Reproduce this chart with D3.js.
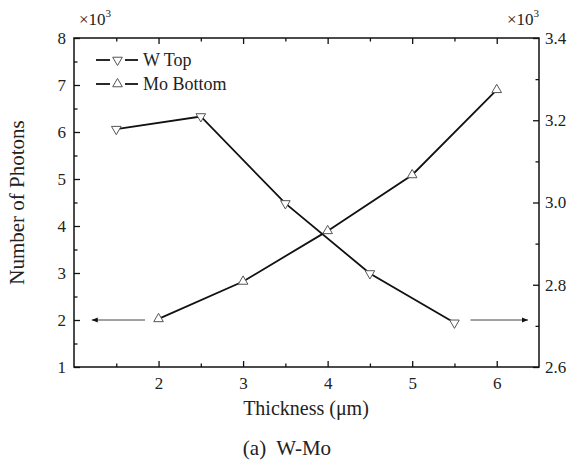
<!DOCTYPE html>
<html>
<head>
<meta charset="utf-8">
<script src="https://cdn.jsdelivr.net/npm/d3@7"></script>
<style>
  html, body { margin: 0; padding: 0; background: #fff; }
  svg { display: block; }
</style>
</head>
<body>
<svg id="chart" width="571" height="463"></svg>
<script>
// Photon counts vs. layer thickness for the W-Mo stack
const wThickness = [1.5, 2.5, 3.5, 4.5, 5.5];
const wTop = [6.06, 6.33, 4.48, 2.99, 1.94];          // left axis, ×10^3
const moThickness = [2, 3, 4, 5, 6];
const moBottom = [2.717, 2.808, 2.931, 3.067, 3.274]; // right axis, ×10^3

const xTicks = [2, 3, 4, 5, 6];
const xMinor = [1.5, 2.5, 3.5, 4.5, 5.5];
const yLeftTicks = [1, 2, 3, 4, 5, 6, 7, 8];
const yLeftMinor = [1.5, 2.5, 3.5, 4.5, 5.5, 6.5, 7.5];
const yRightTicks = [2.6, 2.8, 3.0, 3.2, 3.4];
const yRightMinor = [2.7, 2.9, 3.1, 3.3];

const legendLabels = ["W Top", "Mo Bottom"];
const xTitle = "Thickness (\u03bcm)";
const yTitle = "Number of Photons";
const caption = "(a)  W-Mo";

const SERIF = "'Liberation Serif', 'Times New Roman', 'DejaVu Serif', serif";

const svg = d3.select("#chart");
const L = 74, R = 539, T = 38, B = 367;

const x = d3.scaleLinear().domain([1, 6.5]).range([L, R]);
const yL = d3.scaleLinear().domain([1, 8]).range([B, T]);
const yR = d3.scaleLinear().domain([2.6, 3.4]).range([B, T]);

function txt(sel, size) {
  return sel.style("font-family", SERIF).style("font-size", size).style("fill", "#222");
}

function styleAxis(g) {
  g.attr("font-family", null).attr("font-size", null);
  g.select(".domain").remove();
  g.selectAll(".tick line").attr("stroke", "#111").attr("stroke-width", 1.3);
  txt(g.selectAll("text"), "17px");
}

// bottom axis
svg.append("g").attr("transform", `translate(0,${B})`)
  .call(d3.axisBottom(x).tickValues(xTicks).tickFormat(d3.format("d")).tickSizeInner(-6).tickSizeOuter(0).tickPadding(10))
  .call(styleAxis);
svg.append("g").attr("transform", `translate(0,${B})`)
  .call(d3.axisBottom(x).tickValues(xMinor).tickFormat("").tickSizeInner(-3.5).tickSizeOuter(0))
  .call(styleAxis);
// top axis (mirror ticks)
svg.append("g").attr("transform", `translate(0,${T})`)
  .call(d3.axisTop(x).tickValues(xTicks).tickFormat("").tickSizeInner(-6).tickSizeOuter(0))
  .call(styleAxis);
svg.append("g").attr("transform", `translate(0,${T})`)
  .call(d3.axisTop(x).tickValues(xMinor).tickFormat("").tickSizeInner(-3.5).tickSizeOuter(0))
  .call(styleAxis);
// left axis
svg.append("g").attr("transform", `translate(${L},0)`)
  .call(d3.axisLeft(yL).tickValues(yLeftTicks).tickFormat(d3.format("d")).tickSizeInner(-6).tickSizeOuter(0).tickPadding(8))
  .call(styleAxis);
svg.append("g").attr("transform", `translate(${L},0)`)
  .call(d3.axisLeft(yL).tickValues(yLeftMinor).tickFormat("").tickSizeInner(-3.5).tickSizeOuter(0))
  .call(styleAxis);
// right axis
svg.append("g").attr("transform", `translate(${R},0)`)
  .call(d3.axisRight(yR).tickValues(yRightTicks).tickFormat(d3.format(".1f")).tickSizeInner(-6).tickSizeOuter(0).tickPadding(6))
  .call(styleAxis);
svg.append("g").attr("transform", `translate(${R},0)`)
  .call(d3.axisRight(yR).tickValues(yRightMinor).tickFormat("").tickSizeInner(-3.5).tickSizeOuter(0))
  .call(styleAxis);

// frame
svg.append("rect").attr("x", L).attr("y", T).attr("width", R - L).attr("height", B - T)
  .attr("fill", "none").attr("stroke", "#111").attr("stroke-width", 1.5);

// multiplier labels
function multiplier(xPos) {
  const t = txt(svg.append("text").attr("x", xPos).attr("y", 25), "17px");
  t.append("tspan").text("\u00d710");
  t.append("tspan").attr("dy", -8).style("font-size", "11px").text("3");
}
multiplier(79);
multiplier(507);

// axis titles
txt(svg.append("text").attr("transform", `translate(24,${(T + B) / 2}) rotate(-90)`)
  .attr("text-anchor", "middle"), "21px").text(yTitle);
txt(svg.append("text").attr("x", 306).attr("y", 415)
  .attr("text-anchor", "middle"), "20px").text(xTitle);
txt(svg.append("text").attr("x", 287).attr("y", 455).attr("text-anchor", "middle")
  .attr("xml:space", "preserve").style("white-space", "pre"), "21px").text(caption);

// axis-indicator arrows
const defs = svg.append("defs");
defs.append("marker").attr("id", "arrowHead").attr("viewBox", "0 0 10 10")
  .attr("refX", 10).attr("refY", 5).attr("markerWidth", 7).attr("markerHeight", 6)
  .attr("markerUnits", "userSpaceOnUse").attr("orient", "auto")
  .append("path").attr("d", "M0,1 L10,5 L0,9 Z").attr("fill", "#111");

svg.append("line").attr("x1", x(1.84)).attr("x2", x(1.21))
  .attr("y1", yL(2)).attr("y2", yL(2))
  .attr("stroke", "#444").attr("stroke-width", 1).attr("marker-end", "url(#arrowHead)");
svg.append("line").attr("x1", x(5.69)).attr("x2", x(6.37))
  .attr("y1", yL(2)).attr("y2", yL(2))
  .attr("stroke", "#444").attr("stroke-width", 1).attr("marker-end", "url(#arrowHead)");

// series
const tri = d3.symbol().type(d3.symbolTriangle).size(40);
const wPts = wThickness.map((t, i) => [x(t), yL(wTop[i])]);
const moPts = moThickness.map((t, i) => [x(t), yR(moBottom[i])]);

const line = d3.line();
svg.append("path").attr("d", line(wPts)).attr("fill", "none").attr("stroke", "#111").attr("stroke-width", 1.8);
svg.append("path").attr("d", line(moPts)).attr("fill", "none").attr("stroke", "#111").attr("stroke-width", 1.8);

svg.selectAll(".wmark").data(wPts).join("path").attr("class", "wmark")
  .attr("d", tri).attr("transform", d => `translate(${d[0]},${d[1]}) rotate(180)`)
  .attr("fill", "#fff").attr("stroke", "#555").attr("stroke-width", 1);
svg.selectAll(".momark").data(moPts).join("path").attr("class", "momark")
  .attr("d", tri).attr("transform", d => `translate(${d[0]},${d[1]})`)
  .attr("fill", "#fff").attr("stroke", "#555").attr("stroke-width", 1);

// legend
const legRows = [
  { label: legendLabels[0], rot: 180, y: 60 },
  { label: legendLabels[1], rot: 0, y: 84 }
];
legRows.forEach(r => {
  const g = svg.append("g");
  g.append("line").attr("x1", 96).attr("x2", 110).attr("y1", r.y).attr("y2", r.y).attr("stroke", "#111").attr("stroke-width", 1.8);
  g.append("line").attr("x1", 125).attr("x2", 138).attr("y1", r.y).attr("y2", r.y).attr("stroke", "#111").attr("stroke-width", 1.8);
  g.append("path").attr("d", tri).attr("transform", `translate(117.5,${r.y}) rotate(${r.rot})`)
    .attr("fill", "#fff").attr("stroke", "#555").attr("stroke-width", 1);
  txt(g.append("text").attr("x", 143).attr("y", r.y + 6), "18px").text(r.label);
});
</script>
</body>
</html>
